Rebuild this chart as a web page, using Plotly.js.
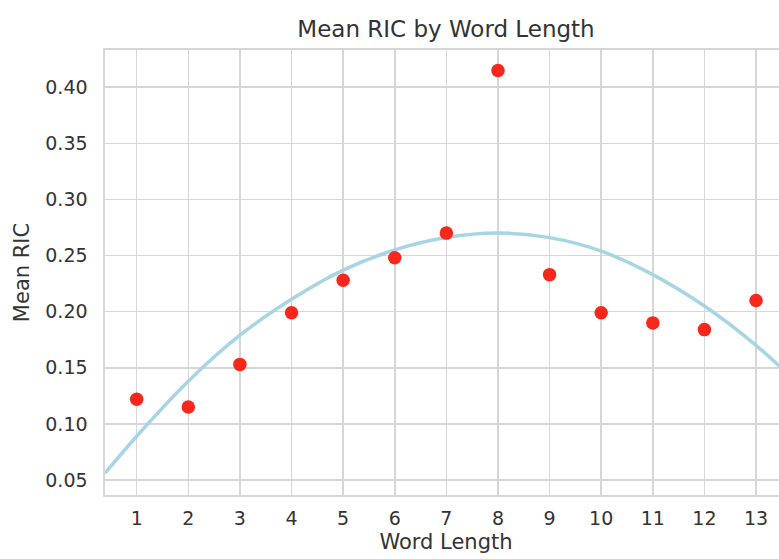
<!DOCTYPE html>
<html>
<head>
<meta charset="utf-8">
<script src="https://cdn.plot.ly/plotly-3.0.1.min.js"></script>
<style>
html,body{margin:0;padding:0;overflow:hidden;background:#fff;}
#chart{width:787px;height:559px;}
</style>
</head>
<body>
<div id="chart"></div>
<script>
// Data
const wordLength = [1,2,3,4,5,6,7,8,9,10,11,12,13];
const meanRIC = [0.122,0.115,0.153,0.199,0.228,0.248,0.270,0.415,0.233,0.199,0.190,0.184,0.210];
// Fitted curve, values
const fitX = [0.386,1,2,3,4,5,6,7,8,9,10,11,12,13,13.6];
const fitY = [0.056,0.089,0.138,0.179,0.211,0.237,0.255,0.266,0.270,0.266,0.254,0.233,0.205,0.170,0.145];
const xTicks = [1,2,3,4,5,6,7,8,9,10,11,12,13];
const yTicks = [0.05,0.10,0.15,0.20,0.25,0.30,0.35,0.40];

const font = "'DejaVu Sans', 'Liberation Sans', sans-serif";
const textColor = '#333333';
const gridColor = '#d6d6d6';

const traces = [
  {
    x: fitX, y: fitY, type: 'scatter', mode: 'lines',
    line: {color: '#a8d5e4', width: 3.5, shape: 'spline', smoothing: 1},
    hoverinfo: 'skip', showlegend: false
  },
  {
    x: wordLength, y: meanRIC, type: 'scatter', mode: 'markers',
    marker: {color: '#f8271b', size: 13.5},
    showlegend: false
  }
];

const layout = {
  width: 787, height: 559,
  margin: {l: 105, r: 0, t: 50, b: 64},
  paper_bgcolor: '#ffffff', plot_bgcolor: '#ffffff',
  font: {family: font, color: textColor},
  title: {text: 'Mean RIC by Word Length', font: {family: font, size: 23, color: textColor},
          x: 0.5, xref: 'paper', y: 0.948, yref: 'container', yanchor: 'middle'},
  xaxis: {
    range: [0.386, 13.6], tickvals: xTicks, ticktext: xTicks.map(String),
    showgrid: true, gridcolor: gridColor, gridwidth: 1.6,
    showline: true, linecolor: gridColor, linewidth: 1.6, mirror: true,
    zeroline: false, ticks: 'outside', ticklen: 6, tickcolor: 'rgba(0,0,0,0)',
    tickfont: {family: font, size: 19, color: textColor},
    title: {text: 'Word Length', font: {family: font, size: 21, color: textColor}, standoff: 6}
  },
  yaxis: {
    range: [0.0366, 0.4332], tickvals: yTicks, ticktext: yTicks.map(v => v.toFixed(2)),
    showgrid: true, gridcolor: gridColor, gridwidth: 1.6,
    showline: true, linecolor: gridColor, linewidth: 1.6, mirror: true,
    zeroline: false, ticks: 'outside', ticklen: 12, tickcolor: 'rgba(0,0,0,0)',
    tickfont: {family: font, size: 19, color: textColor},
    title: {text: 'Mean RIC', font: {family: font, size: 21, color: textColor}, standoff: 10}
  }
};

Plotly.newPlot('chart', traces, layout, {displayModeBar: false, staticPlot: true});
</script>
</body>
</html>
